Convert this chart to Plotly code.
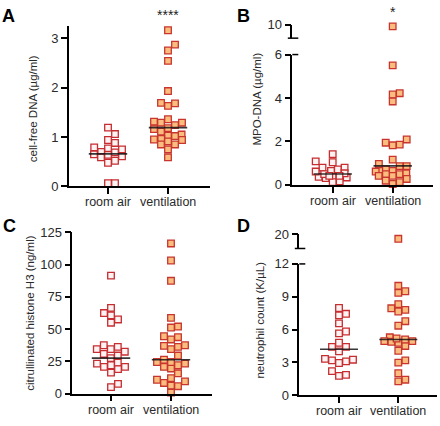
import numpy as np
import plotly.graph_objects as go

# ---------------- data ----------------
groups = ["room air", "ventilation"]

cfdna_room = [1.19, 1.06, 0.94, 0.88, 0.77, 0.75, 0.79, 0.70, 0.69, 0.65, 0.64,
              0.59, 0.52, 0.48, 0.61, 0.065, 0.065]
cfdna_vent = [3.16, 2.87, 2.75, 2.54, 1.93, 1.63, 1.68, 1.69, 1.31, 1.29, 1.29,
              1.24, 1.36, 1.18, 1.11, 1.16, 1.05, 1.02, 1.03, 0.96, 0.91, 0.95,
              0.94, 0.85, 0.85, 0.75, 0.59]
cfdna_median = [0.66, 1.19]

mpo_room = [1.41, 1.08, 1.04, 0.79, 0.79, 0.71, 0.64, 0.37, 0.34, 0.31, 0.61,
            0.49, 0.53, 0.37, 0.16, 0.12, 0.41, 0.41]
mpo_vent = [9.9, 5.5, 4.22, 4.16, 3.84, 2.09, 1.85, 1.94, 1.82, 1.16, 0.86, 0.86,
            0.96, 0.64, 0.64, 0.61, 0.71, 0.49, 0.41, 0.52, 0.41, 0.49, 0.27,
            0.12, 0.04, 0.19]
mpo_median = [0.50, 0.87]

h3_room = [91.5, 66.5, 62.5, 60.75, 57.5, 55, 37.5, 36.25, 34.5, 34.5, 32.5,
           30.75, 29.5, 27.5, 24, 23.25, 22, 20.75, 20.75, 19, 16.25, 7.5, 5]
h3_vent = [116.5, 103.25, 87.5, 58.75, 52, 51.25, 42, 43.75, 44.5, 37, 36.25,
           37.5, 34.5, 29.5, 26.25, 24.5, 22, 20.75, 23.25, 19.5, 24.5, 12,
           15.75, 10.75, 8.25, 6.25, 5.75, 0.75, 9.5]
h3_median = [27.5, 26.25]

neut_room = [7.97, 7.3, 7.44, 6.56, 5.82, 5.65, 4.79, 4.41, 4.41, 4.0, 3.32,
             3.24, 3.09, 2.94, 3.18, 2.2, 1.85, 1.76]
neut_vent = [19.5, 10.0, 9.35, 9.5, 8.32, 7.94, 7.8, 7.65, 6.76, 6.35, 5.29,
             4.94, 4.79, 4.88, 4.94, 5.18, 4.5, 4.06, 3.18, 2.97, 2.0, 1.41,
             1.26, 5.09]
neut_median = [4.2, 5.09]

ytick_a = [0, 1, 2, 3]
ytick_b = [0, 2, 4, 6]
ytick_b_top = [10]
ytick_c = [0, 25, 50, 75, 100, 125]
ytick_d = [0, 3, 6, 9, 12]
ytick_d_top = [20]

# ---------------- styling ----------------
W, H = 440, 426
FONT = "Liberation Sans, Arial, sans-serif"
ROOM_FILL, ROOM_LINE = "#fef3f3", "#c62d30"
VENT_FILL, VENT_LINE = "#fbbd7e", "#c8352e"
MSIZE, MLINE = 6.6, 1.3


def px_x(p):
    return p / W


def px_y(p):
    return 1 - p / H


def swarm(values, px_per_unit, side, px_per_xunit, cap=17.0):
    """Beeswarm for square markers, limited to +-cap pixels (offsets in x-axis units)."""
    vals = np.asarray(values, float)
    ys = vals * px_per_unit
    order = np.argsort(vals)
    placed = []
    xs = np.zeros(len(vals))

    def clear(c, y):
        return all(abs(c - a) >= side - 1e-6 or abs(y - b) >= side - 1e-6 for (a, b) in placed)

    for i in order:
        y = ys[i]
        cands = [0.0]
        for (a, b) in placed:
            if abs(y - b) < side:
                cands += [a + side, a - side]
        cands = sorted(set(round(c, 4) for c in cands), key=lambda c: (abs(c), -c))
        chosen = None
        for c in cands:
            if abs(c) <= cap and clear(c, y):
                chosen = c
                break
        if chosen is None:
            grid = np.linspace(-cap, cap, 21)
            best = -1
            for g in grid:
                d = min(max(abs(g - a), abs(y - b)) for (a, b) in placed) if placed else 1e9
                if d > best + 1e-9:
                    best, chosen = d, float(g)
        xs[i] = chosen
        placed.append((chosen, y))
    return xs / px_per_xunit


fig = go.Figure()

# panel geometry (pixels)
panels = {
    "A": dict(xa="x", ya="y", yt=None, xpx=(69, 210), ypx=(186, 20), yr=[0, 3.24],
              cats=(108, 168), data=(cfdna_room, cfdna_vent), med=cfdna_median,
              ticks=ytick_a, cut=None),
    "B": dict(xa="x2", ya="y2", yt="y5", xpx=(292.3, 433), ypx=(184.3, 49.3), yr=[0, 6],
              cats=(332.7, 392.7), data=(mpo_room, mpo_vent), med=mpo_median,
              ticks=ytick_b, cut=6, typx=(32.3, 18.3), ytr=[9.2, 10], tticks=ytick_b_top),
    "C": dict(xa="x3", ya="y3", yt=None, xpx=(72.3, 212), ypx=(400.7, 233.7), yr=[0, 125],
              cats=(111, 171), data=(h3_room, h3_vent), med=h3_median,
              ticks=ytick_c, cut=None),
    "D": dict(xa="x4", ya="y4", yt="y6", xpx=(299.3, 437), ypx=(402.3, 266.3), yr=[0, 12],
              cats=(339, 398.3), data=(neut_room, neut_vent), med=neut_median,
              ticks=ytick_d, cut=12, typx=(250.3, 235.7), ytr=[18.4, 20], tticks=ytick_d_top),
}

axis_common = dict(showgrid=False, zeroline=False, showline=True, linecolor="black",
                   linewidth=1.6, ticks="outside", ticklen=6, tickwidth=1.5,
                   tickcolor="black", tickfont=dict(family=FONT, size=13, color="#2a2a2a"))

layout_axes = {}
shapes = []
annotations = []
for key, p in panels.items():
    x0, x1 = p["xpx"]
    c0, c1 = p["cats"]
    ux = c1 - c0
    xr = [-(c0 - x0) / ux, (x1 - c0) / ux]
    yb, ytop = p["ypx"]
    ppu = (yb - ytop) / (p["yr"][1] - p["yr"][0])
    xname = "xaxis" + p["xa"][1:]
    yname = "yaxis" + p["ya"][1:]
    layout_axes[xname] = dict(axis_common, domain=[px_x(x0), px_x(x1)], range=xr,
                              anchor=p["ya"], tickvals=[0, 1], showticklabels=False)
    layout_axes[yname] = dict(axis_common, domain=[px_y(yb), px_y(ytop)], range=p["yr"],
                              anchor=p["xa"], tickvals=p["ticks"])
    # category labels placed just under the axis
    for gi, g in enumerate(groups):
        annotations.append(dict(text=g, x=gi, xref=p["xa"], y=px_y(yb + 16.5), yref="paper",
                                showarrow=False, xanchor="center", yanchor="middle",
                                font=dict(family=FONT, size=12.5, color="#2a2a2a")))
    if p["yt"]:
        tb, tt = p["typx"]
        tname = "yaxis" + p["yt"][1:]
        layout_axes[tname] = dict(axis_common, domain=[px_y(tb), px_y(tt)], range=p["ytr"],
                                  anchor=p["xa"], tickvals=p["tticks"])
        wpx = x1 - x0
        # break marks
        shapes.append(dict(type="line", xref=p["xa"] + " domain", yref=p["yt"] + " domain",
                           x0=-4.5 / wpx, x1=6 / wpx, y0=0, y1=0,
                           line=dict(color="black", width=1.5)))
        shapes.append(dict(type="line", xref=p["xa"] + " domain", yref=p["ya"] + " domain",
                           x0=0, x1=6 / wpx, y0=1, y1=1,
                           line=dict(color="black", width=1.5)))

    for gi, (vals, fill, line) in enumerate(zip(p["data"], (ROOM_FILL, VENT_FILL),
                                                 (ROOM_LINE, VENT_LINE))):
        vals = np.asarray(vals, float)
        if p["cut"] is not None:
            low = vals[vals <= p["cut"]]
            high = vals[vals > p["cut"]]
        else:
            low, high = vals, np.array([])
        offs = swarm(low, ppu, 7.0, ux)
        mk = dict(symbol="square", size=MSIZE, color=fill, line=dict(color=line, width=MLINE))
        fig.add_trace(go.Scatter(x=gi + offs, y=low, mode="markers", marker=mk,
                                 xaxis=p["xa"], yaxis=p["ya"], cliponaxis=False,
                                 hoverinfo="y"))
        if len(high):
            fig.add_trace(go.Scatter(x=gi + np.zeros(len(high)), y=high, mode="markers",
                                     marker=mk, xaxis=p["xa"], yaxis=p["yt"],
                                     cliponaxis=False, hoverinfo="y"))
        med = p["med"][gi]
        fig.add_trace(go.Scatter(x=[gi - 0.32, gi + 0.32], y=[med, med], mode="lines",
                                 line=dict(color="rgba(20,20,20,0.85)", width=1.6),
                                 xaxis=p["xa"], yaxis=p["ya"], cliponaxis=False,
                                 hoverinfo="skip"))

# panel letters
for letter, (lx, ly) in {"A": (8, 9), "B": (243, 9), "C": (9, 227), "D": (243, 227)}.items():
    annotations.append(dict(text="<b>%s</b>" % letter, x=px_x(lx), y=px_y(ly), xref="paper",
                            yref="paper", showarrow=False, xanchor="center", yanchor="middle",
                            font=dict(family=FONT, size=18, color="black")))
# axis titles
for txt, (tx, ty) in {"cell-free DNA (µg/ml)": (33, 106),
                      "MPO-DNA (µg/ml)": (257, 96),
                      "citrullinated histone H3 (ng/ml)": (30, 318),
                      "neutrophil count (K/µL)": (260, 325)}.items():
    annotations.append(dict(text=txt, x=px_x(tx), y=px_y(ty), xref="paper", yref="paper",
                            showarrow=False, textangle=-90, xanchor="center",
                            yanchor="middle", font=dict(family=FONT, size=11.5, color="#2a2a2a")))
# significance
annotations.append(dict(text="****", x=1, y=px_y(8), xref="x", yref="paper", showarrow=False,
                        xanchor="center", yanchor="middle",
                        font=dict(family=FONT, size=14, color="#222")))
annotations.append(dict(text="*", x=1, y=px_y(5), xref="x2", yref="paper", showarrow=False,
                        xanchor="center", yanchor="middle",
                        font=dict(family=FONT, size=14, color="#222")))

fig.update_layout(width=W, height=H, margin=dict(l=0, r=0, t=0, b=0),
                  paper_bgcolor="white", plot_bgcolor="white", showlegend=False,
                  annotations=annotations, shapes=shapes, **layout_axes)

fig.write_html("out.html", config={"displayModeBar": False},
               post_script="document.body.style.margin='0px';document.body.style.overflow='hidden';")
